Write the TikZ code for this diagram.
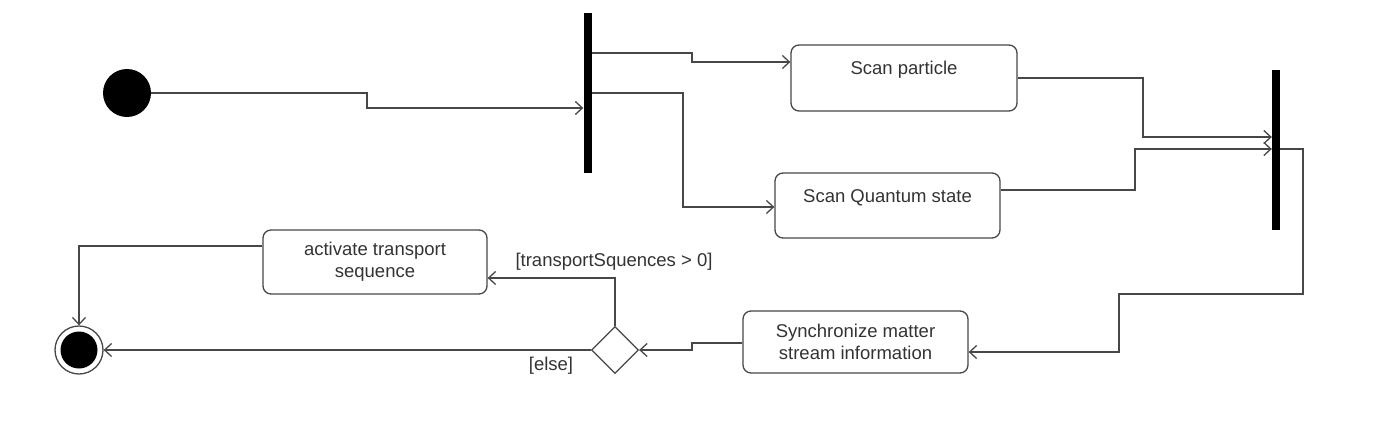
\documentclass[tikz,border=0pt]{standalone}
\usepackage{fontspec}
\setmainfont{Liberation Sans}
\usetikzlibrary{arrows.meta,shapes.geometric}
\begin{document}
\begin{tikzpicture}[x=1pt,y=-1pt,
  flow/.style={draw=black!72,line width=1.3pt,-{Straight Barb[length=7pt,width=13pt]}},
  act/.style={draw=black!72,line width=1.3pt,rounded corners=8pt,minimum width=#1,inner sep=0pt,align=center,
    font=\fontsize{18.5}{22}\selectfont,text=black!80},
  bar/.style={fill=black,draw=none,minimum width=8pt,inner sep=0pt,minimum height=#1},
  guard/.style={font=\fontsize{18.5}{22}\selectfont,text=black!80,inner sep=0pt},
]
\useasboundingbox (0,0) rectangle (1379,437);
% initial node
\node[circle,fill=black,minimum size=48pt,inner sep=0pt] (start) at (127,93) {};
% fork and join bars
\node[bar=160pt] (fork) at (587.5,93) {};
\node[bar=160pt] (join) at (1276,150) {};
% actions
\node[act=226pt,minimum height=66pt] (sp) at (904,78) {Scan particle\\[-8pt]\strut};
\node[act=225pt,minimum height=65pt] (sq) at (887.5,205.5) {Scan Quantum state\\[-9pt]\strut};
\node[act=225pt,minimum height=62pt] (sync) at (855.5,342) {Synchronize matter\\stream information};
\node[act=224pt,minimum height=64pt] (actv) at (375,262) {activate transport\\sequence};
% decision
\node[diamond,draw=black!72,line width=1.3pt,minimum width=47pt,minimum height=47pt,inner sep=0pt,fill=white] (dec) at (615,350) {};
% final node
\node[circle,draw=black!72,line width=1.3pt,fill=white,minimum size=48pt,inner sep=0pt] (final) at (79,350) {};
\node[circle,fill=black,minimum size=37pt,inner sep=0pt] (finalin) at (final.center) {};
% connectors
\draw[flow] (start.east) -- (367,93) -- (367,108) -- (fork.west |- 0,108);
\draw[flow] (fork.east |- 0,53) -- (692,53) -- (692,62) -- (sp.west |- 0,62);
\draw[flow] (fork.east |- 0,93) -- (683,93) -- (683,207) -- (sq.west |- 0,207);
\draw[flow] (sp.east) -- (1143,78) -- (1143,137) -- (join.west |- 0,137);
\draw[flow] (sq.east |- 0,190) -- (1135,190) -- (1135,149) -- (join.west |- 0,149);
\draw[flow] (join.east |- 0,149) -- (1303,149) -- (1303,294) -- (1119,294) -- (1119,352) -- (sync.east |- 0,352);
\draw[flow] (sync.west |- 0,343) -- (692,343) -- (692,350) -- (dec.east);
\draw[flow] (dec.north) -- (615,278) -- (actv.east |- 0,278);
\draw[flow] (dec.west) -- (final.east);
\draw[flow] (actv.west |- 0,246) -- (79,246) -- (final.north);
% guards
\node[guard] (g1) at (614,262) {[transportSquences > 0]};
\node[guard] (g2) at (551,366) {[else]};
\end{tikzpicture}
\end{document}
